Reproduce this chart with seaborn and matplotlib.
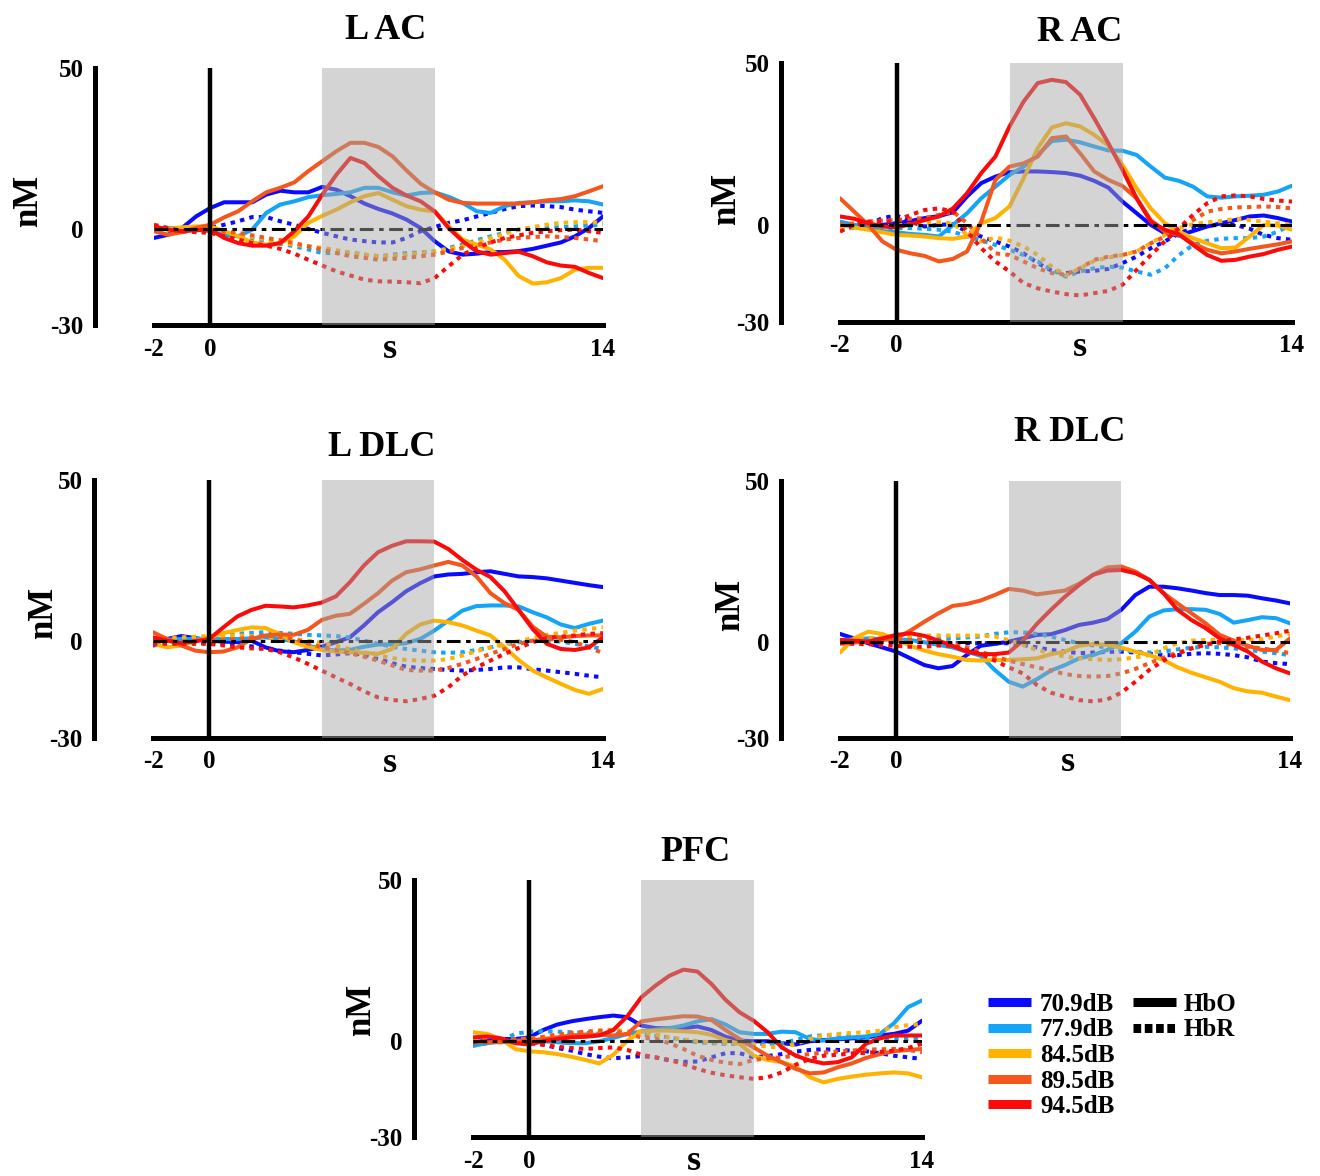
import numpy as np
import pandas as pd
import matplotlib
matplotlib.use("Agg")
import matplotlib.pyplot as plt
import seaborn as sns
from matplotlib.lines import Line2D

# time axis (s) and stimulus levels
time_s = [-2, -1.5, -1, -0.5, 0, 0.5, 1, 1.5, 2, 2.5, 3, 3.5, 4, 4.5, 5, 5.5, 6,
          6.5, 7, 7.5, 8, 8.5, 9, 9.5, 10, 10.5, 11, 11.5, 12, 12.5, 13, 13.5, 14]
levels = ["70.9dB", "77.9dB", "84.5dB", "89.5dB", "94.5dB"]
level_colors = ["#0a0aff", "#14a4f8", "#ffb300", "#f5561c", "#fb0a0a"]
stim_on, stim_off = 4, 8

# one row per level (70.9 -> 94.5), values in nM
lac_hbo = [
    [-2.9, -1.9, 0.2, 3.8, 6.4, 8.2, 8.2, 8.2, 10.6, 11.8, 11.3, 11.3, 13.0, 12.1, 10.1, 7.8, 6.1,
     4.7, 2.8, 0.2, -3.9, -7.1, -8.1, -7.8, -7.3, -7.3, -7.0, -6.3, -5.3, -4.3, -2.4, 0.2, 3.8],
    [0.2, 0.2, 0.2, -0.1, -0.8, -1.9, -2.4, -0.3, 4.9, 7.5, 8.5, 9.8, 10.4, 10.8, 11.3, 12.7, 12.7,
     11.3, 10.3, 11.1, 11.3, 9.9, 8.0, 5.4, 4.9, 7.0, 8.0, 8.2, 8.5, 8.5, 8.8, 8.5, 7.5],
    [-0.3, -0.1, 0.4, 0.7, 0.7, -0.8, -2.4, -4.3, -5.0, -4.5, -2.4, 1.8, 4.0, 5.9, 8.2, 10.1, 11.1,
     9.0, 7.0, 5.9, 5.4, 0.7, -3.4, -5.0, -6.5, -9.7, -14.8, -17.1, -16.7, -15.4, -12.8, -12.2, -12.2],
    [-0.8, -1.9, -1.1, 0.2, 1.2, 3.5, 5.4, 8.5, 11.3, 12.7, 14.4, 17.9, 21.0, 24.1, 26.7, 26.7, 25.4,
     22.5, 18.1, 14.0, 11.3, 9.0, 8.0, 7.8, 7.8, 7.8, 7.8, 8.2, 8.8, 9.2, 10.1, 11.6, 13.2],
    [0.7, -0.3, -0.8, -0.5, -0.3, -2.9, -4.5, -5.3, -5.3, -4.5, -0.8, 3.8, 10.6, 16.8, 22.0, 20.4, 16.3,
     12.7, 10.3, 8.5, 5.4, 0.2, -3.9, -7.1, -8.1, -7.6, -7.2, -8.6, -10.5, -11.5, -11.9, -13.8, -15.4],
]
lac_hbr = [
    [0.2, -0.1, -0.3, -0.1, 0.2, 1.2, 2.3, 3.6, 3.6, 2.3, 1.2, -0.1, -1.3, -2.4, -3.4, -3.9, -4.3,
     -4.3, -2.9, -0.8, 0.5, 1.8, 2.6, 3.8, 4.9, 6.1, 7.0, 7.2, 7.0, 6.7, 5.9, 5.4, 4.9],
    [0.2, 0.0, -0.3, -0.5, -0.8, -1.6, -2.4, -3.2, -3.9, -4.7, -5.5, -6.5, -7.6, -7.6, -7.4, -8.1, -8.6,
     -8.1, -7.6, -7.4, -7.1, -6.0, -5.0, -3.6, -2.4, -1.3, -0.3, 0.0, 0.2, 0.5, 0.7, 1.0, 1.2],
    [0.2, 0.2, 0.2, 0.0, -0.3, -1.0, -1.9, -2.6, -3.4, -4.3, -5.0, -5.5, -6.0, -6.7, -7.6, -8.1, -8.6,
     -8.4, -8.1, -7.6, -7.1, -6.3, -5.5, -4.3, -2.9, -1.6, -0.3, 0.5, 1.2, 1.8, 2.0, 2.0, 1.8],
    [0.7, -0.1, -0.8, -0.8, -0.8, -1.0, -1.3, -2.1, -2.9, -3.6, -4.5, -5.5, -6.5, -7.6, -8.6, -9.1, -9.7,
     -9.4, -9.1, -8.6, -8.1, -7.1, -6.0, -5.0, -4.3, -3.4, -2.9, -2.6, -2.4, -2.6, -2.9, -3.4, -3.9],
    [1.2, 0.2, -0.8, -1.1, -1.3, -2.4, -3.4, -4.5, -5.3, -6.3, -7.8, -9.7, -11.5, -13.3, -14.6, -15.9, -16.4,
     -16.5, -16.7, -17.0, -15.4, -11.7, -8.1, -6.0, -4.3, -2.9, -2.1, -1.3, -0.8, -0.5, -0.3, -0.8, -1.3],
]
rac_hbo = [
    [0.0, -0.2, -0.5, 0.0, 0.5, 1.2, 2.1, 2.7, 3.9, 8.8, 12.9, 14.9, 16.3, 16.5, 16.5, 16.3, 16.0,
     15.2, 13.6, 11.5, 7.2, 3.6, 0.0, -2.6, -3.3, -1.9, -0.5, 0.5, 1.5, 2.6, 2.9, 2.1, 1.0],
    [1.0, 0.0, -1.0, -1.9, -2.3, -2.8, -3.1, -3.6, 0.0, 3.6, 8.2, 11.8, 15.4, 18.0, 21.6, 25.9, 26.3,
     25.5, 24.2, 23.0, 22.9, 21.6, 18.0, 14.6, 13.6, 11.8, 8.8, 8.4, 8.8, 9.0, 9.3, 10.3, 12.1],
    [0.0, -0.8, -1.5, -2.3, -3.1, -3.3, -3.6, -4.1, -4.3, -3.6, 0.5, 2.1, 5.7, 14.4, 23.7, 30.1, 31.4,
     30.4, 27.8, 24.5, 18.5, 11.3, 5.1, 0.5, -2.1, -4.1, -5.7, -7.2, -7.0, -3.6, 0.0, -0.2, -1.5],
    [8.2, 4.1, 0.0, -5.1, -7.7, -8.8, -9.6, -11.3, -10.5, -8.2, 1.0, 13.9, 18.0, 19.0, 21.1, 26.8, 27.3,
     22.1, 16.5, 13.9, 12.0, 8.2, 1.5, -2.1, -3.1, -5.7, -7.7, -8.8, -8.2, -7.4, -6.7, -6.0, -5.1],
    [2.6, 1.9, 0.5, -0.5, -0.8, 0.2, 1.5, 2.6, 5.1, 9.8, 16.0, 21.1, 30.4, 38.1, 43.8, 44.8, 44.1,
     40.2, 32.9, 25.2, 17.0, 8.2, 1.0, -1.5, -2.9, -6.2, -9.3, -11.1, -10.8, -9.8, -9.0, -7.7, -6.7],
]
rac_hbr = [
    [-1.5, -0.8, 0.0, 2.1, 2.9, 1.0, -0.5, 0.0, 0.2, -2.1, -3.6, -5.1, -6.7, -8.8, -11.8, -14.2, -14.9,
     -14.4, -14.2, -13.6, -11.8, -9.8, -7.2, -5.1, -2.6, -1.0, -0.2, 0.0, 0.0, -1.2, -3.1, -4.1, -4.6],
    [-1.0, -1.0, -1.0, -1.0, -1.0, -1.0, -1.2, -1.5, -2.1, -3.6, -4.8, -6.2, -7.7, -9.3, -11.3, -13.9, -16.0,
     -14.4, -13.4, -12.9, -13.2, -14.4, -15.4, -13.4, -9.3, -6.2, -4.9, -4.3, -4.1, -4.1, -3.6, -2.1, 0.2],
    [-1.0, -0.8, -0.5, -0.5, -0.2, 0.2, 0.5, 0.8, 0.5, -3.1, -5.1, -3.9, -4.9, -6.7, -9.3, -12.9, -15.6,
     -13.4, -11.1, -10.1, -9.3, -8.2, -5.7, -3.1, -1.0, 0.2, 0.8, 1.2, 1.9, 1.5, 1.0, 0.5, 0.0],
    [0.0, 0.5, 1.0, 1.3, 1.5, 1.9, 2.1, 3.1, 4.1, 0.5, -4.1, -8.8, -9.3, -11.3, -13.4, -14.9, -15.4,
     -13.4, -10.8, -9.8, -9.3, -8.2, -5.7, -3.6, -1.0, 1.5, 4.1, 4.9, 5.4, 5.5, 5.7, 5.5, 5.1],
    [-2.1, 0.0, 1.0, 1.0, 1.3, 3.1, 4.6, 5.1, 4.1, -2.1, -7.2, -11.3, -14.4, -18.0, -19.6, -20.6, -21.4,
     -21.8, -21.1, -20.4, -18.5, -13.9, -9.3, -5.1, -1.0, 3.1, 6.7, 8.8, 9.1, 8.8, 8.0, 7.5, 7.2],
]
ldlc_hbo = [
    [-0.8, 0.7, 1.6, 1.0, 0.2, -0.1, -0.3, 0.2, -1.9, -3.1, -3.4, -2.7, -1.7, -0.3, 1.2, 4.9, 9.0,
     12.1, 15.5, 18.0, 20.1, 20.7, 20.9, 21.4, 21.7, 20.9, 20.1, 19.9, 19.5, 18.8, 18.1, 17.4, 16.8],
    [0.2, 0.5, 0.7, 0.7, 0.7, 0.7, 0.7, 0.9, 1.2, 0.7, 0.0, -1.3, -2.4, -2.9, -2.7, -1.7, -1.0,
     -1.0, -0.6, 0.7, 3.3, 6.4, 9.5, 10.9, 11.1, 11.1, 10.8, 9.0, 7.4, 5.2, 4.1, 5.4, 6.4],
    [-0.8, -1.9, -1.3, 0.0, 1.2, 2.5, 3.5, 4.3, 4.1, 2.3, -0.3, -1.7, -2.7, -3.2, -3.4, -3.6, -3.9,
     -2.4, 2.3, 5.2, 6.4, 5.9, 4.9, 3.3, 1.8, -1.9, -5.8, -9.1, -11.2, -13.2, -15.1, -16.3, -14.8],
    [2.8, 0.7, -1.3, -2.9, -3.4, -3.2, -1.9, 0.7, 1.8, 2.1, 2.0, 3.5, 6.6, 7.9, 8.5, 11.6, 14.9,
     18.8, 21.4, 22.3, 23.5, 24.6, 23.5, 20.1, 14.9, 11.8, 9.7, 4.5, 1.4, 1.2, 1.6, 1.8, 1.8],
    [1.2, 0.2, -0.6, 0.0, 0.7, 4.3, 7.7, 9.7, 11.0, 10.8, 10.5, 11.1, 12.0, 13.9, 18.3, 23.5, 27.6,
     29.6, 31.0, 31.0, 30.9, 28.6, 25.2, 22.2, 19.9, 15.5, 9.7, 3.8, -0.8, -2.4, -2.7, -1.9, 1.2],
]
ldlc_hbr = [
    [-1.3, -0.8, -0.3, -0.3, -0.6, -0.8, -1.0, -1.6, -2.1, -2.9, -3.4, -3.9, -4.4, -4.1, -3.7, -4.1, -5.5,
     -6.8, -7.9, -8.3, -8.6, -8.9, -9.1, -8.9, -8.6, -8.1, -8.1, -8.7, -9.1, -9.6, -10.1, -10.7, -11.2],
    [0.2, 0.4, 0.7, 1.0, 1.2, 1.8, 2.3, 2.6, 2.8, 2.6, 2.3, 2.0, 1.8, 1.6, 1.2, 0.2, -0.8,
     -1.7, -2.4, -2.9, -3.4, -3.6, -3.4, -2.7, -1.9, -1.0, -0.3, 0.2, 0.2, -0.1, -0.8, -1.6, -2.4],
    [0.7, 1.0, 1.2, 1.4, 1.6, 1.7, 1.8, 1.6, 1.2, 1.0, 0.7, 0.2, -0.6, -1.4, -2.4, -3.4, -4.4,
     -5.2, -5.8, -6.0, -6.0, -5.5, -4.4, -3.1, -1.9, -0.8, 0.0, 1.0, 2.0, 2.6, 3.3, 3.8, 4.3],
    [0.2, 0.0, -0.3, 0.0, 0.2, 0.5, 0.7, 1.2, 1.8, 1.4, 0.7, -0.6, -1.9, -2.7, -3.7, -4.8, -6.0,
     -7.5, -8.9, -9.1, -9.1, -8.3, -7.0, -5.5, -3.9, -2.4, -0.8, 0.2, 0.7, 0.5, -0.3, -1.9, -3.7],
    [-0.8, -0.8, -0.8, -0.8, -0.8, -1.3, -1.9, -2.2, -2.4, -3.4, -5.0, -7.0, -9.1, -11.2, -13.2, -15.5, -17.4,
     -18.2, -18.6, -17.9, -16.9, -14.3, -10.6, -8.1, -6.0, -3.9, -2.1, -0.3, 1.0, 1.4, 1.8, 2.3, 2.5],
]
rdlc_hbo = [
    [2.4, 1.0, -0.5, -1.8, -3.1, -5.2, -7.3, -8.3, -7.6, -4.2, -1.3, -0.7, 0.0, 1.0, 2.1, 2.3, 3.6,
     5.2, 5.9, 7.0, 9.9, 14.5, 17.1, 17.1, 16.6, 15.9, 15.1, 14.5, 14.5, 14.3, 13.5, 12.8, 11.9],
    [0.5, 0.7, 1.0, 0.8, 0.7, 0.5, -0.2, -1.0, -1.8, -3.1, -4.4, -8.8, -12.5, -14.0, -11.7, -9.0, -7.3,
     -5.2, -4.2, -2.6, -0.5, 3.1, 7.8, 9.7, 10.1, 10.1, 9.9, 8.6, 5.9, 6.7, 7.6, 7.3, 5.7],
    [-3.4, 1.0, 3.1, 2.4, 0.7, -1.3, -2.8, -3.9, -4.7, -5.7, -5.9, -5.7, -5.7, -5.5, -5.2, -3.9, -3.1,
     -1.3, -0.7, -1.0, -1.9, -3.1, -4.2, -5.7, -8.0, -9.7, -11.1, -12.5, -14.5, -15.5, -15.9, -17.1, -18.2],
    [-0.5, -0.3, 0.0, 0.5, 1.0, 3.4, 6.2, 8.8, 11.1, 11.7, 12.8, 14.5, 16.4, 15.9, 14.7, 15.3, 15.9,
     18.0, 20.8, 23.1, 23.4, 21.8, 19.2, 15.1, 11.9, 8.8, 5.7, 2.1, 0.3, -1.3, -2.6, -2.6, 1.0],
    [0.5, 0.3, 0.0, 1.0, 2.1, 2.6, 1.8, 0.3, -1.3, -3.1, -3.9, -3.9, -3.4, 0.3, 5.5, 9.9, 14.0,
     17.6, 20.8, 22.1, 22.3, 21.3, 19.2, 15.1, 9.9, 6.7, 4.2, 1.0, -1.0, -3.1, -6.2, -8.3, -9.9],
]
rdlc_hbr = [
    [-0.5, 0.0, 0.3, 0.3, 0.3, 0.0, -0.2, -0.3, -0.5, -0.5, -0.5, -0.5, -0.5, -1.0, -1.8, -2.6, -3.1,
     -3.6, -3.4, -3.2, -3.1, -3.4, -3.8, -4.2, -4.2, -3.8, -3.6, -3.8, -4.2, -4.9, -6.2, -6.7, -7.0],
    [0.5, 0.5, 0.5, 0.7, 0.7, 0.9, 1.0, 1.0, 1.0, 1.3, 1.6, 2.4, 2.9, 2.9, 2.4, 1.6, 0.5,
     -0.5, -1.2, -1.9, -2.6, -3.1, -3.4, -3.1, -2.4, -1.9, -1.6, -1.8, -2.1, -2.6, -3.1, -3.6, -4.2],
    [0.0, 0.5, 1.0, 1.3, 1.6, 1.8, 1.9, 1.9, 1.9, 1.9, 1.9, 1.6, 0.5, -1.0, -2.6, -3.6, -4.7,
     -5.2, -5.5, -5.7, -5.5, -4.9, -4.2, -2.1, -0.5, 0.3, 0.5, 0.5, 0.5, 0.5, 0.7, 1.6, 2.4],
    [0.0, 0.0, 0.0, 0.2, 0.3, 0.4, 0.5, 0.2, -0.5, -1.8, -3.1, -4.7, -5.9, -7.0, -8.0, -9.0, -10.1,
     -10.7, -10.9, -10.7, -9.9, -8.5, -6.7, -5.0, -3.4, -2.1, -0.7, -0.5, -1.0, -1.6, -2.1, -2.8, -3.6],
    [-0.5, -0.7, -0.8, -1.1, -1.3, -1.6, -1.6, -1.2, -1.3, -2.6, -3.8, -5.9, -8.0, -9.9, -13.5, -15.9, -17.1,
     -18.2, -18.6, -18.0, -15.9, -12.5, -8.8, -5.9, -3.8, -2.1, -1.0, 0.0, 0.7, 1.2, 1.9, 2.6, 3.4],
]
pfc_hbo = [
    [-0.5, 0.0, 0.5, 0.5, 1.0, 3.3, 5.0, 6.0, 6.7, 7.3, 7.8, 7.3, 4.7, 3.9, 3.8, 3.9, 4.4,
     3.3, 1.2, 0.0, -0.2, -0.2, -0.8, -1.2, -0.2, 0.2, 0.4, 0.7, 1.0, 1.6, 2.1, 3.1, 6.2],
    [-1.6, -0.8, -0.2, 0.0, 0.0, -0.2, -0.5, -0.8, -0.8, -0.2, 0.8, 2.1, 2.9, 3.4, 3.9, 4.7, 6.0,
     6.7, 5.0, 2.6, 2.1, 2.1, 2.8, 2.6, 0.5, 0.0, 0.7, 1.0, 1.3, 2.1, 5.4, 10.4, 12.5],
    [2.6, 2.1, 0.5, -2.6, -3.3, -3.6, -4.2, -5.0, -6.0, -7.1, -4.4, 0.0, 2.8, 3.1, 3.1, 2.9, 2.6,
     1.8, 0.2, -1.0, -4.7, -6.0, -6.7, -8.1, -11.4, -13.0, -11.9, -11.2, -10.6, -10.2, -9.9, -10.2, -11.4],
    [-0.5, -0.5, -0.5, -0.2, 0.0, 0.5, 1.0, 1.6, 1.9, 1.8, 1.6, 2.1, 6.0, 6.6, 7.1, 7.6, 7.5,
     6.4, 3.3, 0.5, -2.1, -4.7, -6.7, -8.8, -10.2, -9.9, -8.3, -7.1, -5.4, -4.2, -3.3, -2.9, -2.6],
    [1.0, 1.3, 0.7, -0.8, -1.2, -0.2, 0.5, 1.0, 1.2, 1.6, 3.3, 7.6, 13.5, 17.1, 20.2, 22.1, 21.5,
     17.6, 12.7, 8.8, 6.2, 2.6, -2.1, -4.7, -6.2, -7.1, -6.7, -5.2, -1.0, 0.7, 1.6, 1.6, 1.6],
]
pfc_hbr = [
    [-1.0, -0.5, 0.0, -0.2, -0.5, -1.2, -2.3, -3.1, -4.2, -5.0, -5.5, -5.2, -4.8, -5.2, -6.2, -6.6, -6.5,
     -5.2, -3.9, -3.9, -5.2, -4.8, -4.2, -3.4, -2.9, -2.7, -2.9, -3.1, -3.3, -3.9, -4.7, -5.2, -5.7],
    [-1.6, -0.8, 0.0, 2.1, 2.8, 2.9, 2.8, 2.6, 2.4, 2.2, 2.1, 2.0, 1.9, 1.5, 1.0, 0.2, -0.5,
     -0.8, -1.0, -1.0, -1.0, -1.0, -0.8, 0.2, 1.3, 1.7, 1.8, 1.2, 0.5, 0.5, 0.5, 0.6, 1.0],
    [0.0, 0.0, 0.0, 0.4, 0.7, 1.1, 1.6, 2.1, 2.6, 3.1, 3.4, 2.9, 2.6, 1.9, 1.0, 0.4, -0.2,
     -0.6, -0.8, -1.0, -1.2, -1.9, -2.1, -1.0, 0.5, 1.6, 2.1, 2.4, 2.6, 3.1, 4.2, 4.8, 5.2],
    [-0.5, -0.2, 0.0, 0.3, 0.5, 1.2, 1.9, 2.4, 2.8, 3.1, 3.1, 2.1, 1.0, 0.5, -0.8, -2.6, -4.7,
     -6.0, -6.9, -7.3, -6.0, -5.5, -5.2, -4.7, -4.2, -3.7, -3.4, -3.1, -2.8, -2.7, -2.6, -2.9, -3.6],
    [-0.5, -0.2, 0.0, -0.4, -0.8, -1.3, -1.9, -2.3, -2.6, -2.3, -2.1, -2.9, -4.4, -5.2, -6.0, -7.3, -8.8,
     -10.0, -10.8, -11.4, -11.9, -11.4, -9.9, -7.5, -5.7, -4.7, -4.4, -4.0, -3.8, -3.5, -3.1, -2.3, -1.0],
]

W, H = 1320, 1176

# title, data, axes box in px (left, top, right, bottom), title (x, baseline), ylabel coords, xlabel x
panels = [
    ("L AC", lac_hbo, lac_hbr, (154, 68, 603, 325), (386, 39), (-0.261, 0.482), 0.526),
    ("R AC", rac_hbo, rac_hbr, (840, 63, 1292, 322), (1080, 41), (-0.232, 0.475), 0.531),
    ("L DLC", ldlc_hbo, ldlc_hbr, (153, 480, 603, 738), (382, 456), (-0.224, 0.484), 0.527),
    ("R DLC", rdlc_hbo, rdlc_hbr, (840, 481, 1290, 738), (1070, 441), (-0.224, 0.517), 0.507),
    ("PFC", pfc_hbo, pfc_hbr, (473, 880, 922, 1137), (695, 861), (-0.229, 0.494), 0.492),
]


def long_frame(hbo, hbr):
    rows = []
    for lev, a, b in zip(levels, hbo, hbr):
        assert len(a) == len(time_s) and len(b) == len(time_s)
        rows += [(t, v, lev, "HbO") for t, v in zip(time_s, a)]
        rows += [(t, v, lev, "HbR") for t, v in zip(time_s, b)]
    return pd.DataFrame(rows, columns=["time", "nM", "level", "signal"])


sns.set_theme(style="white")
plt.rcParams["font.family"] = ["Liberation Serif", "DejaVu Serif"]
plt.rcParams["font.weight"] = "bold"
plt.rcParams["axes.unicode_minus"] = False
for key in ["text.color", "axes.labelcolor", "xtick.color", "ytick.color"]:
    plt.rcParams[key] = "black"

fig = plt.figure(figsize=(W / 100, H / 100), dpi=100)
palette = dict(zip(levels, level_colors))

for title, hbo, hbr, (l, t, r, b), (tx, ty), ylab_xy, xlab_x in panels:
    ax = fig.add_axes([l / W, 1 - b / H, (r - l) / W, (b - t) / H])
    df = long_frame(hbo, hbr)
    sns.lineplot(data=df, x="time", y="nM", hue="level", style="signal",
                 hue_order=levels, palette=palette, style_order=["HbO", "HbR"],
                 dashes={"HbO": "", "HbR": (1.1, 1.3)}, linewidth=2.9,
                 estimator=None, legend=False, ax=ax)

    ax.axhline(0, color="black", lw=2.2, dashes=(4.5, 1.8, 1.5, 1.8), zorder=3)
    ax.axvspan(stim_on, stim_off, color="#a5a5a5", alpha=0.48, lw=0, zorder=4)
    ax.axvline(0, color="black", lw=3.2, zorder=5)

    ax.set_xlim(-2, 14)
    ax.set_ylim(-30, 50)
    ax.set_xticks([-2, 0, 14])
    ax.set_yticks([-30, 0, 50])
    ax.set_yticks([-30], minor=True)
    ax.set_xticklabels(["-2", "0", "14"])
    ax.set_yticklabels(["-30", "0", "50"])
    for side in ["top", "right"]:
        ax.spines[side].set_visible(False)
    for side in ["left", "bottom"]:
        ax.spines[side].set_linewidth(3.6)
        ax.spines[side].set_color("black")
    ax.spines["left"].set_position(("outward", 42.5))
    ax.tick_params(axis="both", which="major", length=0, labelsize=18, colors="black")
    ax.tick_params(axis="x", pad=9)
    ax.tick_params(axis="y", pad=8)
    ax.tick_params(axis="y", which="minor", left=True, direction="in", length=4, width=3.6)

    ax.set_xlabel("s", fontsize=26, fontweight="bold", va="baseline")
    ax.xaxis.set_label_coords(xlab_x, -0.13)
    ax.set_ylabel("nM", fontsize=25, fontweight="bold", va="baseline")
    ax.yaxis.set_label_coords(*ylab_xy)

    fig.text(tx / W, 1 - ty / H, title, ha="center", va="baseline",
             fontsize=26, fontweight="bold")

level_handles = [Line2D([], [], color=c, lw=6.5, solid_capstyle="butt") for c in level_colors]
fig.legend(level_handles, levels, loc="upper left",
           bbox_to_anchor=(988 / W, 1 - 993 / H), frameon=False, fontsize=18,
           handlelength=1.72, handletextpad=0.36, labelspacing=0.1,
           borderpad=0, borderaxespad=0)
signal_handles = [Line2D([], [], color="black", lw=6.5, solid_capstyle="butt"),
                  Line2D([], [], color="black", lw=6.5, dashes=(0.85, 0.4))]
fig.legend(signal_handles, ["HbO", "HbR"], loc="upper left",
           bbox_to_anchor=(1133 / W, 1 - 993 / H), frameon=False, fontsize=18,
           handlelength=1.72, handletextpad=0.32, labelspacing=0.1,
           borderpad=0, borderaxespad=0)

fig.savefig("out.png", dpi=100)
